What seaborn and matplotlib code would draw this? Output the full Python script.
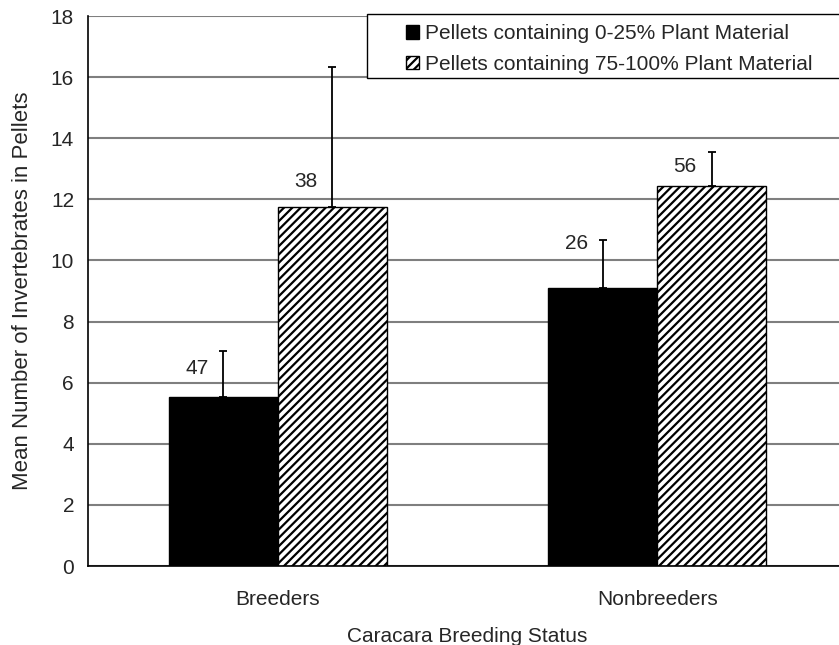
import matplotlib
matplotlib.use('Agg')
import matplotlib.pyplot as plt
import matplotlib.patches as mpatches
import pandas as pd
import seaborn as sns

# ---- Data ----
status = ['Breeders', 'Nonbreeders']
groups = ['Pellets containing 0-25% Plant Material',
          'Pellets containing 75-100% Plant Material']
low_plant_mean = [5.52, 9.09]
high_plant_mean = [11.74, 12.45]
low_plant_err = [1.53, 1.58]
high_plant_err = [4.59, 1.11]
low_plant_n = ['47', '26']
high_plant_n = ['38', '56']
# height of the sample-size labels (data units)
low_label_y = [6.48, 10.57]
high_label_y = [12.57, 13.06]

df = pd.DataFrame({
    'status': status * 2,
    'mean': low_plant_mean + high_plant_mean,
    'group': [groups[0]] * 2 + [groups[1]] * 2,
})

sns.set_style('white')
plt.rcParams['font.family'] = ['Liberation Sans', 'DejaVu Sans']
plt.rcParams['hatch.linewidth'] = 1.6

fig = plt.figure(figsize=(8.39, 6.45), dpi=100)
ax = fig.add_axes([88 / 839, 1 - 566 / 645, (847 - 88) / 839, 550 / 645])

sns.barplot(data=df, x='status', y='mean', hue='group', palette=['black', 'white'],
            width=0.575, edgecolor='black', linewidth=1, errorbar=None,
            legend=False, ax=ax)

bars = ax.patches
errs = low_plant_err + high_plant_err
ns = low_plant_n + high_plant_n
label_y = low_label_y + high_label_y
for i, bar in enumerate(bars):
    if i >= 2:
        bar.set_hatch('////')
        bar.set_edgecolor('black')
    cx = bar.get_x() + bar.get_width() / 2
    h = bar.get_height()
    ax.errorbar(cx, h, yerr=[[0], [errs[i]]], fmt='none', ecolor='black',
                elinewidth=1.3, capsize=3, capthick=1.3, zorder=3)
    ax.text(cx - 0.07, label_y[i], ns[i], ha='center', va='center', fontsize=15)

ax.set_ylim(0, 18)
ax.set_xlim(-0.5, 1.5)
ax.set_yticks(range(0, 19, 2))
ax.yaxis.grid(True, color='#7f7f7f', linewidth=1.5)
ax.set_axisbelow(True)
ax.set_xticks([-0.5, 0.5, 1.5])
ax.set_xticklabels([])
ax.set_xticks([0, 1], minor=True)
ax.set_xticklabels(status, minor=True)
ax.tick_params(axis='x', which='minor', length=0, pad=17, labelsize=15)
ax.tick_params(axis='x', which='major', length=6, width=1, color='black', direction='out')
ax.tick_params(axis='y', length=6, width=1, color='black', direction='out', labelsize=15, pad=4)
for side in ['top', 'right']:
    ax.spines[side].set_visible(False)
for side in ['left', 'bottom']:
    ax.spines[side].set_color('black')
    ax.spines[side].set_linewidth(1.2)

ax.set_xlabel('Caracara Breeding Status', fontsize=15, labelpad=13)
ax.set_ylabel('Mean Number of Invertebrates in Pellets', fontsize=16, labelpad=13)

# legend box (Excel-style, wider than its contents)
ax.add_patch(mpatches.Rectangle((0.3676, 0.8873), 0.66, 0.1163, transform=ax.transAxes,
                                facecolor='white', edgecolor='black', linewidth=1,
                                clip_on=False, zorder=4))
handles = [mpatches.Patch(facecolor='black', edgecolor='black', label=groups[0]),
           mpatches.Patch(facecolor='white', edgecolor='black', hatch='////', label=groups[1])]
leg = ax.legend(handles=handles, loc='upper left', bbox_to_anchor=(0.419, 0.985),
                borderaxespad=0, borderpad=0, fontsize=15, frameon=False,
                handlelength=0.63, handleheight=0.63, handletextpad=0.3,
                labelspacing=0.55)
leg.set_zorder(5)

fig.savefig('out.png', dpi=100)
